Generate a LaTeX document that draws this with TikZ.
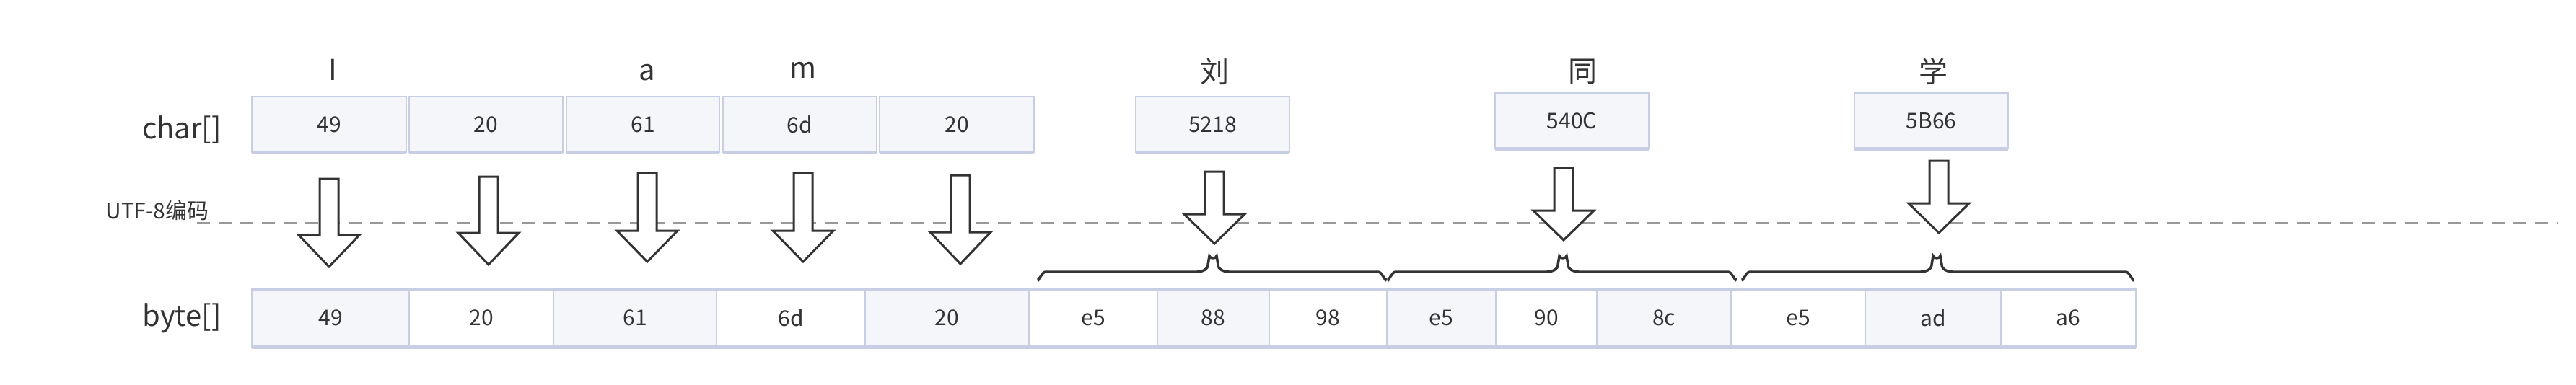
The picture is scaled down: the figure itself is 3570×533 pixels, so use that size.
\documentclass[tikz,border=0pt]{standalone}
\usepackage{fontspec}
\setmainfont{Noto Sans CJK SC}
\begin{document}
\begin{tikzpicture}[x=1pt,y=-1pt,
  cellf/.style={draw=none,fill=cellfill},
  txt/.style={font=\fontsize{30}{30}\selectfont,text=txtc,inner sep=0pt},
  lbl/.style={font=\fontsize{40}{40}\selectfont,text=txtc,inner sep=0pt},
  blk/.style={draw=arrc,line width=3pt,fill=white,line join=miter},
  brc/.style={draw=arrc,line width=3.5pt}]
\definecolor{cellfill}{HTML}{F5F6FA}
\definecolor{cellline}{HTML}{C8CEE3}
\definecolor{txtc}{HTML}{333333}
\definecolor{arrc}{HTML}{333333}
\useasboundingbox (0,0) rectangle (3570,533);
% dashed line
\draw[draw=gray!80,line width=3pt,dash pattern=on 18pt off 12pt] (273,309) -- (3545,309);
\node[font=\fontsize{30}{30}\selectfont,text=txtc,inner sep=0pt] (utf) at (218,292) {UTF-8编码};
% labels
\node[lbl] (lc) at (252,180) {char[]};
\node[lbl] (lb) at (252,441) {byte[]};
% char boxes
\newcommand{\cbox}[6]{%
  \fill[cellfill] (#1,#3) rectangle (#2,#4);
  \draw[cellline,line width=2pt] (#1,#3) rectangle (#2,#4);
  \draw[cellline,line width=5pt] (#1,#4) -- (#2,#4);
  \node[txt] (#5) at ({(#1+#2)/2},{(#3+#4)/2}) {#6};}
\cbox{349}{563}{134}{211}{c1}{49}
\cbox{567}{780}{134}{211}{c2}{20}
\cbox{785}{997}{134}{211}{c3}{61}
\cbox{1002}{1215}{134}{211}{c4}{6d}
\cbox{1219}{1433}{134}{211}{c5}{20}
\cbox{1574}{1787}{134}{211}{c6}{5218}
\cbox{2072}{2285}{129}{206}{c7}{540C}
\cbox{2570}{2783}{129}{206}{c8}{5B66}
% characters
\node[lbl] (t1) at (461,97) {I};
\node[lbl] (t3) at (897,101) {a};
\node[lbl] (t4) at (1113,97) {m};
\node[lbl] (t6) at (1683,99) {刘};
\node[lbl] (t7) at (2193,99) {同};
\node[lbl] (t8) at (2679,99) {学};
% block arrows: center, top, headstart, tip
\newcommand{\barrow}[4]{%
  \draw[blk] ({#1-13},#2) -- ({#1+13},#2) -- ({#1+13},#3) -- ({#1+42},#3) -- (#1,#4) -- ({#1-42},#3) -- ({#1-13},#3) -- cycle;}
\barrow{456}{248}{326}{370}
\barrow{677}{245}{323}{367}
\barrow{897}{240}{320}{363}
\barrow{1113}{240}{320}{363}
\barrow{1331}{243}{322}{366}
\barrow{1683}{238}{297}{338}
\barrow{2167}{233}{292}{333}
\barrow{2687}{223}{282}{323}
% braces
\newcommand{\cbrace}[3]{%
  \draw[brc,line cap=round] (#1,389) -- (#1,386) to[out=-90,in=180] ({#1+10},377) -- ({#3-22},377) to[out=0,in=-90] ({#3-7},367) -- ({#3-5},355) to[out=-90,in=-90] ({#3+5},355) -- ({#3+7},367) to[out=-90,in=180] ({#3+22},377) -- ({#2-10},377) to[out=0,in=-90] (#2,386) -- (#2,389);}
\cbrace{1439}{1920}{1681}
\cbrace{1924}{2405}{2166}
\cbrace{2415}{2956}{2684}
% byte row
\newcommand{\bbox}[5]{%
  \ifnum#5=1 \fill[cellfill] (#1,401) rectangle (#2,481);\fi
  \draw[cellline,line width=2pt] (#1,401) rectangle (#2,481);
  \node[txt] (#3) at ({(#1+#2)/2},441) {#4};}
\bbox{349}{567}{b1}{49}{1}
\bbox{567}{767}{b2}{20}{0}
\bbox{767}{993}{b3}{61}{1}
\bbox{993}{1199}{b4}{6d}{0}
\bbox{1199}{1426}{b5}{20}{1}
\bbox{1426}{1604}{b6}{e5}{0}
\bbox{1604}{1759}{b7}{88}{1}
\bbox{1759}{1922}{b8}{98}{0}
\bbox{1922}{2073}{b9}{e5}{1}
\bbox{2073}{2213}{b10}{90}{0}
\bbox{2213}{2399}{b11}{8c}{1}
\bbox{2399}{2585}{b12}{e5}{0}
\bbox{2585}{2773}{b13}{ad}{1}
\bbox{2773}{2960}{b14}{a6}{0}
\draw[cellline,line width=5pt] (349,401) -- (2960,401);
\draw[cellline,line width=5pt] (349,481) -- (2960,481);
\end{tikzpicture}
\end{document}
